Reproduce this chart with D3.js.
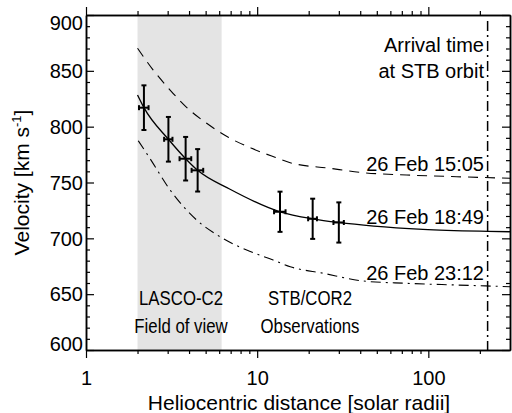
<!DOCTYPE html>
<html>
<head>
<meta charset="utf-8">
<script src="https://cdn.jsdelivr.net/npm/d3@7"></script>
<style>
  html, body { margin: 0; padding: 0; background: #fff; }
  svg { display: block; font-family: "Liberation Sans", Arial, Helvetica, sans-serif; }
</style>
</head>
<body>
<svg id="chart" width="512" height="413"></svg>
<script>
// ---------------- data ----------------
const obsR    = [2.18, 3.03, 3.82, 4.49, 13.6, 21.1, 30.0];
const obsV    = [817, 788.7, 771.3, 760.9, 723.8, 717.5, 714.2];
const obsVErr = [20, 20, 19.5, 19, 18, 18, 18];
const obsRErr = [0.14, 0.17, 0.30, 0.35, 1.05, 1.25, 2.1];

const fitR  = [2.0, 2.18, 3.03, 3.82, 4.49, 6.9, 13.6, 21.1, 30.0, 48, 93, 224, 300];
const fitV  = [828.4, 817, 788.7, 771.3, 760.9, 744.2, 723.8, 717.5, 714.2, 711, 708.1, 706.3, 705.9];

const upperR = [2.0, 2.47, 3.10, 3.87, 5.07, 6.78, 9.29, 12.7, 15.6, 26.6, 41.7, 74.7, 146, 300];
const upperV = [870.2, 850.7, 832.8, 817.3, 803.0, 790.5, 780.6, 772.6, 767.7, 762.7, 758.8, 756.7, 755.2, 753.8];

const lowerR = [2.02, 2.36, 3.10, 4.43, 6.06, 8.68, 12.4, 15.6, 24.3, 41.7, 74.7, 146, 300];
const lowerV = [787.4, 771.7, 743.3, 716.4, 701.5, 689.5, 680.6, 674.6, 668.7, 661.8, 659.7, 658.2, 656.7];

const lascoFOV   = [2.0, 6.2];
const arrivalR   = 222;
const xMajorTicks = [1, 10, 100];
const xMinorTicks = [2,3,4,5,6,7,8,9,20,30,40,50,60,70,80,90,200];
const yMajorTicks = [600, 650, 700, 750, 800, 850, 900];
const yMinorTicks = d3.range(600, 901, 10).filter(d => d % 50 !== 0);
const curveLabels = ["26 Feb 15:05", "26 Feb 18:49", "26 Feb 23:12"];

// ---------------- layout ----------------
const svg = d3.select("#chart");
const L = 86, R = 510, T = 15, B = 350;
const x = d3.scaleLog().domain([1, 300]).range([L, R]);
const y = d3.scaleLinear().domain([600, 900]).range([B, T]);
const FS = 20;

// shaded field of view
svg.append("rect")
  .attr("x", x(lascoFOV[0])).attr("y", T)
  .attr("width", x(lascoFOV[1]) - x(lascoFOV[0]))
  .attr("height", B - T)
  .attr("fill", "#e4e4e4");

// curves
const line = (rs, vs) => d3.line().curve(d3.curveMonotoneX)(rs.map((r, i) => [x(r), y(vs[i])]));
svg.append("path").attr("d", line(upperR, upperV))
  .attr("fill", "none").attr("stroke", "#000").attr("stroke-width", 1.1)
  .attr("stroke-dasharray", "10,7");
svg.append("path").attr("d", line(fitR, fitV))
  .attr("fill", "none").attr("stroke", "#000").attr("stroke-width", 1.3);
svg.append("path").attr("d", line(lowerR, lowerV))
  .attr("fill", "none").attr("stroke", "#000").attr("stroke-width", 1.1)
  .attr("stroke-dasharray", "10,5,2,5");

// arrival vertical line
svg.append("line")
  .attr("x1", x(arrivalR)).attr("x2", x(arrivalR))
  .attr("y1", T + 6).attr("y2", B)
  .attr("stroke", "#000").attr("stroke-width", 1.5)
  .attr("stroke-dasharray", "10,4,2,4");

// error bars
const eb = svg.append("g").attr("stroke", "#000").attr("stroke-width", 2);
obsR.forEach((r, i) => {
  const cx = x(r), cy = y(obsV[i]);
  const y0 = y(obsV[i] - obsVErr[i]), y1 = y(obsV[i] + obsVErr[i]);
  const x0 = x(r - obsRErr[i]), x1 = x(r + obsRErr[i]);
  eb.append("line").attr("x1", cx).attr("x2", cx).attr("y1", y0).attr("y2", y1);
  eb.append("line").attr("x1", cx - 2.5).attr("x2", cx + 2.5).attr("y1", y0).attr("y2", y0);
  eb.append("line").attr("x1", cx - 2.5).attr("x2", cx + 2.5).attr("y1", y1).attr("y2", y1);
  eb.append("line").attr("x1", x0).attr("x2", x1).attr("y1", cy).attr("y2", cy);
  eb.append("line").attr("x1", x0).attr("x2", x0).attr("y1", cy - 2.5).attr("y2", cy + 2.5);
  eb.append("line").attr("x1", x1).attr("x2", x1).attr("y1", cy - 2.5).attr("y2", cy + 2.5);
});

// ---------------- axes ----------------
function styleAxis(g) {
  g.selectAll("path").attr("stroke", "#000").attr("stroke-width", 1.5);
  g.selectAll("line").attr("stroke", "#000").attr("stroke-width", 1.2);
  g.selectAll("text").attr("fill", "#000").attr("font-size", FS)
    .attr("font-family", "Liberation Sans, Arial, sans-serif");
}
const fmt = d3.format("d");
// bottom
svg.append("g").attr("transform", `translate(0,${B})`)
  .call(d3.axisBottom(x).tickValues(xMajorTicks).tickFormat(fmt).tickSize(8).tickSizeOuter(0).tickPadding(13))
  .call(styleAxis);
svg.append("g").attr("transform", `translate(0,${B})`)
  .call(d3.axisBottom(x).tickValues(xMinorTicks).tickFormat("").tickSize(4).tickSizeOuter(0))
  .call(styleAxis);
// top
svg.append("g").attr("transform", `translate(0,${T})`)
  .call(d3.axisTop(x).tickValues(xMajorTicks).tickFormat("").tickSize(8).tickSizeOuter(0))
  .call(styleAxis);
svg.append("g").attr("transform", `translate(0,${T})`)
  .call(d3.axisTop(x).tickValues(xMinorTicks).tickFormat("").tickSize(4).tickSizeOuter(0))
  .call(styleAxis);
// left
const leftG = svg.append("g").attr("transform", `translate(${L},0)`)
  .call(d3.axisLeft(y).tickValues(yMajorTicks).tickFormat(fmt).tickSize(-8).tickSizeOuter(0).tickPadding(3))
  .call(styleAxis);
leftG.selectAll("text").attr("dy", d => d === 900 ? "0.72em" : d === 600 ? "0.0em" : "0.34em");
svg.append("g").attr("transform", `translate(${L},0)`)
  .call(d3.axisLeft(y).tickValues(yMinorTicks).tickFormat("").tickSize(-4).tickSizeOuter(0))
  .call(styleAxis);
// right
svg.append("g").attr("transform", `translate(${R},0)`)
  .call(d3.axisRight(y).tickValues(yMajorTicks).tickFormat("").tickSize(-8).tickSizeOuter(0))
  .call(styleAxis);
svg.append("g").attr("transform", `translate(${R},0)`)
  .call(d3.axisRight(y).tickValues(yMinorTicks).tickFormat("").tickSize(-4).tickSizeOuter(0))
  .call(styleAxis);

// ---------------- titles & annotations ----------------
svg.append("text").attr("x", (L + R) / 2 + 1).attr("y", 410)
  .attr("text-anchor", "middle").attr("font-size", 21)
  .text("Heliocentric distance [solar radii]");

const yt = svg.append("text")
  .attr("transform", `translate(29,${(T + B) / 2}) rotate(-90)`)
  .attr("text-anchor", "middle").attr("font-size", 21);
yt.append("tspan").text("Velocity [km s");
yt.append("tspan").attr("font-size", 13).attr("dy", -8).text("-1");
yt.append("tspan").attr("dy", 8).text("]");

const ann = svg.append("g").attr("font-size", FS).attr("fill", "#000");
ann.append("text").attr("x", 484).attr("y", 52).attr("text-anchor", "end").text("Arrival time");
ann.append("text").attr("x", 484).attr("y", 78).attr("text-anchor", "end").text("at STB orbit");
const labelY = [170.5, 224, 280];
curveLabels.forEach((t, i) => {
  ann.append("text").attr("x", 484).attr("y", labelY[i]).attr("text-anchor", "end").text(t);
});
const sub = svg.append("g").attr("font-size", 20).attr("fill", "#000");
const subText = (cx, by, t) => sub.append("text")
  .attr("transform", `translate(${cx},${by}) scale(0.84,1)`)
  .attr("text-anchor", "middle").text(t);
subText(181, 305, "LASCO-C2");
subText(181, 333, "Field of view");
subText(310, 305, "STB/COR2");
subText(310, 333, "Observations");
</script>
</body>
</html>
